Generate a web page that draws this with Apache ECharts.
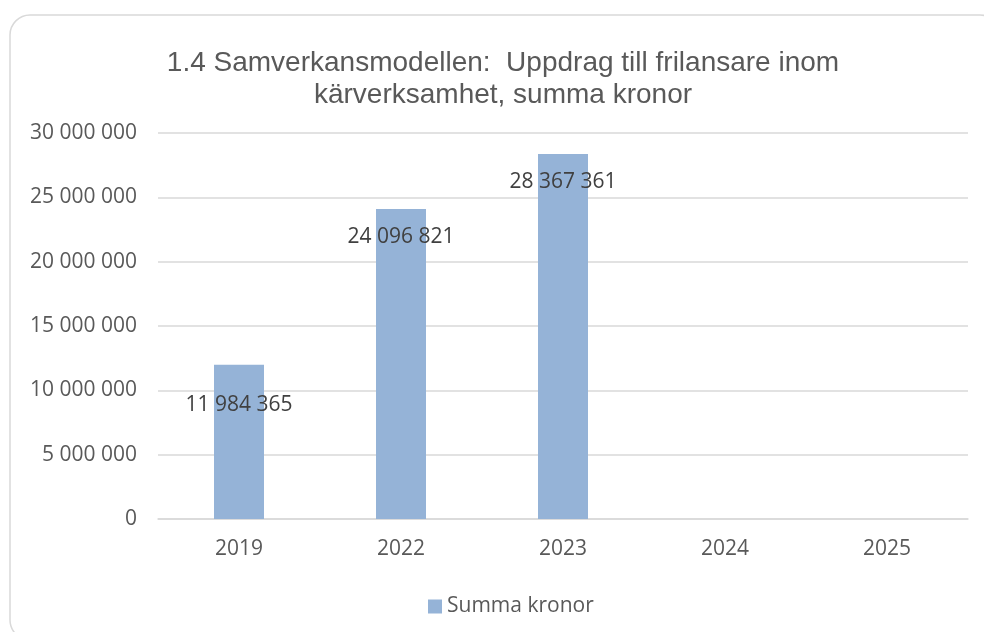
<!DOCTYPE html>
<html>
<head>
<meta charset="utf-8">
<script src="https://cdn.jsdelivr.net/npm/echarts@6/dist/echarts.min.js"></script>
<style>
  html, body { margin: 0; padding: 0; background: #fff; }
  #myChart { width: 984px; height: 632px; }
</style>
</head>
<body>
<div id="myChart"></div>
<script>
    // chart data
    var years = ['2019', '2022', '2023', '2024', '2025'];
    var summaKronor = [11984365, 24096821, 28367361, null, null];
    var seriesName = 'Summa kronor';
    var titleText = '1.4 Samverkansmodellen:  Uppdrag till frilansare inom\nkärverksamhet, summa kronor';

    function fmt(v) {
        return String(Math.round(v)).replace(/\B(?=(\d{3})+(?!\d))/g, ' ');
    }

    var labelFont = '"Open Sans", "Noto Sans", sans-serif';

    var myChart = echarts.init(document.getElementById('myChart'));
    myChart.setOption({
        animation: false,
        graphic: [{
            type: 'rect',
            shape: { x: 10, y: 15, width: 990, height: 625, r: 20 },
            style: { fill: 'none', stroke: '#d9d9d9', lineWidth: 1.5 },
            silent: true,
            z: -1
        }],
        title: {
            text: titleText,
            left: 498,
            textAlign: 'center',
            top: 42,
            textStyle: {
                fontFamily: '"Liberation Sans", Arial, sans-serif',
                fontSize: 28,
                fontWeight: 'normal',
                color: '#595959',
                lineHeight: 32
            }
        },
        legend: {
            data: [seriesName],
            left: 423,
            top: 591,
            itemWidth: 14,
            itemHeight: 14,
            icon: 'rect',
            textStyle: { fontFamily: labelFont, fontSize: 21, color: '#595959' }
        },
        grid: { left: 158, right: 16, top: 133, bottom: 113, containLabel: false },
        xAxis: {
            type: 'category',
            data: years,
            axisLine: { lineStyle: { color: '#d9d9d9', width: 1.5 } },
            axisTick: { show: false },
            axisLabel: { margin: 20, fontFamily: labelFont, fontSize: 21, color: '#595959' }
        },
        yAxis: {
            type: 'value',
            min: 0,
            max: 30000000,
            interval: 5000000,
            axisLine: { show: false },
            axisTick: { show: false },
            splitLine: { lineStyle: { color: '#d9d9d9', width: 1.5 } },
            axisLabel: {
                margin: 21,
                fontFamily: labelFont,
                fontSize: 21,
                color: '#595959',
                formatter: fmt
            }
        },
        series: [{
            name: seriesName,
            type: 'bar',
            barWidth: 50,
            itemStyle: { color: '#95b3d7' },
            label: {
                show: true,
                position: 'insideTop',
                distance: 18,
                fontFamily: labelFont,
                fontSize: 21,
                color: '#404040',
                formatter: function (p) { return fmt(p.value); }
            },
            data: summaKronor.map(function (v, i) {
                if (i === 0) return { value: v, label: { offset: [0, 12] } };
                return v;
            })
        }]
    });
</script>
</body>
</html>
